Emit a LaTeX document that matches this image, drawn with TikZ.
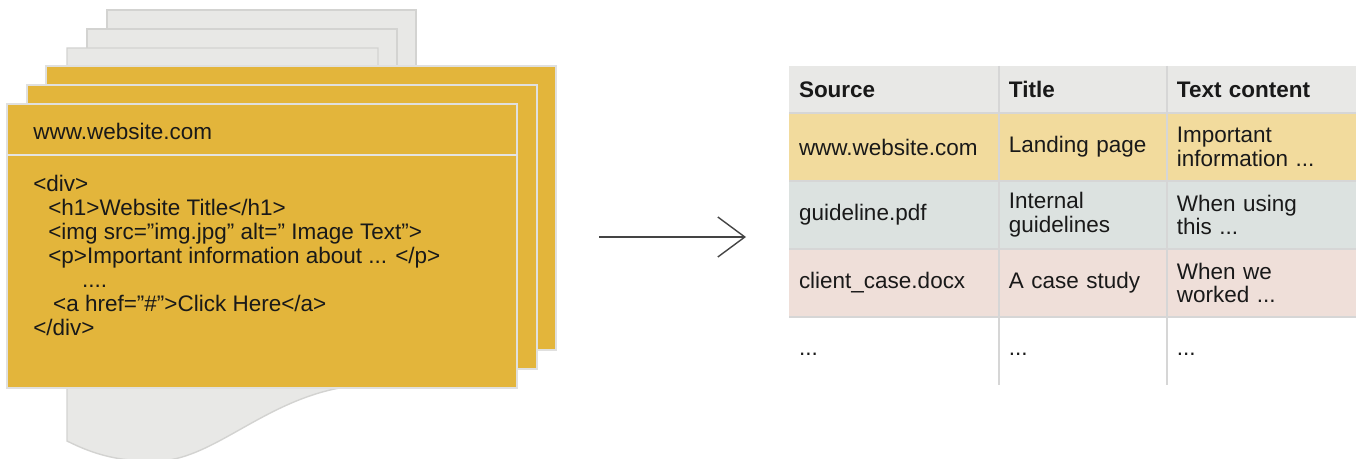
\documentclass[tikz,border=0pt]{standalone}
\usepackage{fontspec}
\setmainfont{Liberation Sans}
\usetikzlibrary{arrows.meta,positioning}

\definecolor{docyellow}{HTML}{E3B53B}
\definecolor{sheetgray}{HTML}{E8E8E6}
\definecolor{sheetline}{HTML}{D3D3D1}
\definecolor{rowyellow}{HTML}{F2DB9D}
\definecolor{rowgreen}{HTML}{DCE2E0}
\definecolor{rowrose}{HTML}{EFDFD9}
\definecolor{gridgray}{HTML}{D6D6D6}
\definecolor{inkgray}{HTML}{444444}

\newcommand{\txtsize}{\fontsize{12.8}{13.6}\selectfont}

\begin{document}
\begin{tikzpicture}[x=0.02cm,y=-0.02cm,>={Straight Barb[length=0.54cm,width=0.8cm]},
    sheet/.style={fill=sheetgray,draw=sheetline,line width=0.8pt},
    doc/.style={fill=docyellow,draw=sheetline!70!white,line width=0.8pt},
    txt/.style={font=\txtsize,text=black!90,inner sep=0pt},
    cell/.style={txt,anchor=north west,inner xsep=0.2cm,inner ysep=0pt,outer sep=0pt,align=left,minimum height=1.36cm},
    head/.style={minimum height=0.94cm,font=\txtsize\bfseries,fill=sheetgray},
    srccol/.style={cell,text width=3.8cm},
    ttlcol/.style={cell,text width=2.96cm},
    txtcol/.style={cell,text width=3.38cm},
    grid/.style={draw=gridgray,line width=0.7pt}]
  \useasboundingbox (0,0) rectangle (1360,459);

  % pages behind
  \filldraw[sheet] (107,10) rectangle (416,380);
  \filldraw[sheet] (87,29) rectangle (397,380);
  \filldraw[sheet] (67,441) -- (67,48) -- (378,48) -- (378,385) -- (345,387)
    .. controls (265,400) and (215,458) .. (160,461)
    .. controls (120,462) and (95,455) .. (67,441) -- cycle;

  % scraped pages
  \filldraw[doc] (46,66) rectangle (556,350);
  \filldraw[doc] (27,85) rectangle (537,369);
  \filldraw[doc] (7,104) rectangle (517,388);
  \draw[sheetline!60!white,line width=0.8pt] (7,155) -- (517,155);

  \node[txt,anchor=west] (url) at (33,131) {www.website.com};
  \node[txt,anchor=north west,align=left] (code) at (33,175)
    {<div>\\
     \hspace*{8.5pt}<h1>Website Title</h1>\\
     \hspace*{8.5pt}<img src=”img.jpg” alt=” Image Text”>\\
     \hspace*{8.5pt}<p>Important information about ... </p>\\
     \hspace*{27.8pt}....\\
     \hspace*{11.3pt}<a href=”\#”>Click Here</a>\\
     </div>};

  \coordinate (arrtail) at (599,237);
  \coordinate (arrtip) at (746,237);
  \draw[->,draw=inkgray,line width=0.8pt] (arrtail) -- (arrtip);

  % table
  \node[srccol,head] (src0) at (789,66) {Source};
  \node[ttlcol,head] (ttl0) [right=0pt of src0] {Title};
  \node[txtcol,head] (txt0) [right=0pt of ttl0] {Text content};

  \node[srccol,fill=rowyellow] (src1) [below=0pt of src0] {www.website.com};
  \node[ttlcol,fill=rowyellow] (ttl1) [right=0pt of src1] {Landing page};
  \node[txtcol,fill=rowyellow] (txt1) [right=0pt of ttl1] {Important\\information ...};

  \node[srccol,fill=rowgreen] (src2) [below=0pt of src1] {guideline.pdf};
  \node[ttlcol,fill=rowgreen] (ttl2) [right=0pt of src2] {Internal\\guidelines};
  \node[txtcol,fill=rowgreen] (txt2) [right=0pt of ttl2] {When using\\this ...};

  \node[srccol,fill=rowrose] (src3) [below=0pt of src2] {client\_case.docx};
  \node[ttlcol,fill=rowrose] (ttl3) [right=0pt of src3] {A case study};
  \node[txtcol,fill=rowrose] (txt3) [right=0pt of ttl3] {When we\\worked ...};

  \node[srccol] (src4) [below=0pt of src3] {\strut...};
  \node[ttlcol] (ttl4) [right=0pt of src4] {\strut...};
  \node[txtcol] (txt4) [right=0pt of ttl4] {\strut...};

  \foreach \r in {0,...,3}
    \draw[grid] (src\r.south west) -- (txt\r.south east);
  \draw[grid] (ttl0.north west) -- (ttl4.south west);
  \draw[grid] (txt0.north west) -- (txt4.south west);
\end{tikzpicture}
\end{document}
